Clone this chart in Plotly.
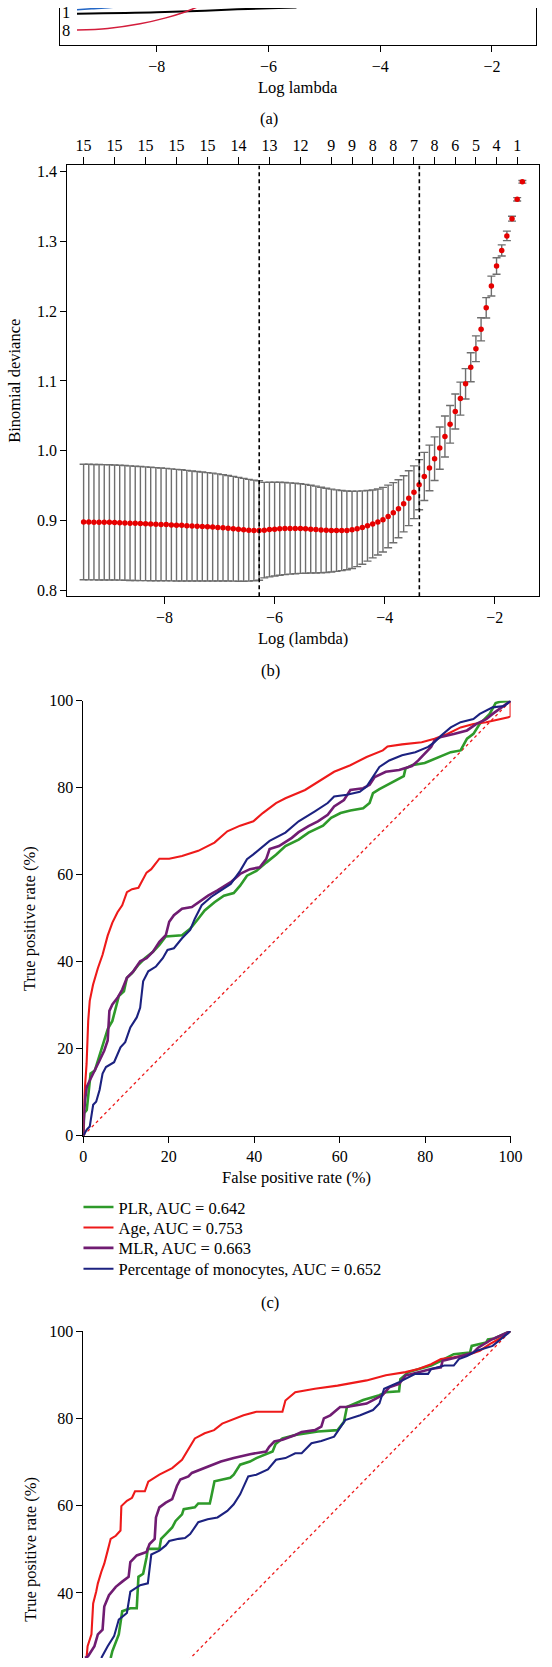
import plotly.graph_objects as go

W, H = 552, 1667
FONT = "Liberation Serif"


def fx(x):
    return x / W


def fy(y):
    return 1 - y / H


# ---------------- (a) coefficient paths (visible fragment only) ----------------
a_blue_loglam = [-9.43, -9.17, -8.94, -8.70]
a_blue_coef = [-0.017, -0.007, 0.0, 0.012]
a_black_loglam = [-9.43, -8.0, -7.14, -6.56, -5.98, -5.5]
a_black_coef = [-0.057, -0.043, -0.027, -0.013, -0.003, 0.005]
a_red_loglam = [-9.43, -8.88, -8.30, -7.84, -7.55, -7.35, -7.1]
a_red_coef = [-0.223, -0.207, -0.160, -0.100, -0.050, -0.007, 0.05]
a_labels = ["1", "8"]
a_label_coef = [-0.05, -0.227]

# ---------------- (b) cross-validation curve ----------------
b_log_lambda = [
    -9.471, -9.377, -9.283, -9.190, -9.096, -9.002, -8.908, -8.815, -8.721, -8.627,
    -8.533, -8.439, -8.345, -8.252, -8.158, -8.064, -7.970, -7.876, -7.783, -7.689,
    -7.595, -7.501, -7.407, -7.314, -7.220, -7.126, -7.032, -6.938, -6.845, -6.751,
    -6.657, -6.563, -6.469, -6.376, -6.282, -6.188, -6.094, -6.000, -5.907, -5.813,
    -5.719, -5.625, -5.531, -5.438, -5.344, -5.250, -5.156, -5.062, -4.969, -4.875,
    -4.781, -4.687, -4.593, -4.500, -4.406, -4.312, -4.218, -4.124, -4.031, -3.937,
    -3.843, -3.749, -3.655, -3.562, -3.468, -3.374, -3.280, -3.186, -3.093, -2.999,
    -2.905, -2.811, -2.717, -2.624, -2.530, -2.436, -2.342, -2.248, -2.155, -2.061,
    -1.967, -1.873, -1.779, -1.686, -1.592, -1.498]
b_mean = [
    0.8982, 0.8981, 0.8980, 0.8979, 0.8978, 0.8977, 0.8975, 0.8972, 0.8969, 0.8966,
    0.8963, 0.8960, 0.8957, 0.8954, 0.8951, 0.8948, 0.8945, 0.8941, 0.8937, 0.8934,
    0.8930, 0.8926, 0.8922, 0.8918, 0.8914, 0.8910, 0.8905, 0.8899, 0.8893, 0.8886,
    0.8878, 0.8870, 0.8864, 0.8861, 0.8860, 0.8866, 0.8874, 0.8880, 0.8885, 0.8888,
    0.8889, 0.8889, 0.8888, 0.8885, 0.8880, 0.8874, 0.8868, 0.8863, 0.8860, 0.8859,
    0.8859, 0.8862, 0.8870, 0.8884, 0.8903, 0.8927, 0.8955, 0.8983, 0.9016, 0.9062,
    0.9115, 0.9171, 0.9242, 0.9323, 0.9408, 0.9516, 0.9634, 0.9756, 0.9889, 1.0040,
    1.0205, 1.0380, 1.0564, 1.0748, 1.0960, 1.1197, 1.1461, 1.1739, 1.2047, 1.2358,
    1.2646, 1.2868, 1.3076, 1.3322, 1.3600, 1.3850]
b_se = [
    0.0827, 0.0827, 0.0826, 0.0826, 0.0825, 0.0824, 0.0823, 0.0822, 0.0821, 0.0820,
    0.0818, 0.0816, 0.0814, 0.0812, 0.0810, 0.0807, 0.0804, 0.0801, 0.0798, 0.0795,
    0.0791, 0.0787, 0.0783, 0.0779, 0.0775, 0.0771, 0.0766, 0.0761, 0.0755, 0.0749,
    0.0743, 0.0736, 0.0728, 0.0720, 0.0712, 0.0683, 0.0677, 0.0671, 0.0665, 0.0659,
    0.0653, 0.0647, 0.0641, 0.0635, 0.0628, 0.0621, 0.0612, 0.0603, 0.0593, 0.0583,
    0.0573, 0.0563, 0.0553, 0.0540, 0.0525, 0.0505, 0.0486, 0.0472, 0.0462, 0.0448,
    0.0430, 0.0415, 0.0401, 0.0392, 0.0378, 0.0359, 0.0345, 0.0326, 0.0312, 0.0302,
    0.0293, 0.0269, 0.0250, 0.0236, 0.0217, 0.0208, 0.0184, 0.0165, 0.0146, 0.0142,
    0.0118, 0.0080, 0.0068, 0.0035, 0.0024, 0.0019]
b_top_index = [0, 6, 12, 18, 24, 30, 36, 42, 48, 52, 56, 60, 64, 68, 72, 76, 80, 84]
b_top_nonzero = ["15", "15", "15", "15", "15", "14", "13", "12", "9", "9",
                 "8", "8", "7", "8", "6", "5", "4", "1"]
b_lambda_min = -6.28
b_lambda_1se = -3.37

# ---------------- (c) ROC curves ----------------
c_plr_fpr = [0, 0.2, 0.8, 1.1, 1.7, 2.7, 3.4, 4.2, 4.9, 5.7, 6.8, 7.6, 8.3, 9.5, 10.2, 11.4, 12.9, 14.4, 16.3, 17.8,
             19.3, 23.1, 25.0, 26.9, 28.4, 30.7, 32.9, 35.2, 36.7, 38.3, 40.5, 42.8, 45.1, 47.3, 50.4, 52.7, 56.1, 58.0, 60.2, 62.5,
             65.5, 67.0, 67.8, 69.3, 71.2, 73.1, 75.0, 75.4, 76.9, 79.9, 82.2, 84.1, 86.0, 88.3, 89.8, 91.3, 92.8, 94.3, 95.1, 96.5,
             97.5, 100]
c_plr_tpr = [0, 5.2, 5.9, 9.0, 14.3, 15.0, 17.3, 19.6, 21.9, 24.5, 26.4, 29.4, 32.1, 33.2, 36.3, 37.4, 39.3, 40.8, 42.3, 43.9,
             45.8, 46.1, 47.6, 49.9, 51.8, 53.7, 55.2, 55.8, 57.5, 59.8, 60.9, 62.8, 64.6, 66.6, 68.1, 69.7, 71.3, 73.1, 74.2, 74.8,
             75.3, 76.5, 78.8, 79.7, 80.7, 81.8, 82.7, 84.4, 85.2, 85.7, 86.7, 87.5, 88.2, 88.6, 91.3, 92.4, 94.7, 96.2, 97.0, 99.5,
             99.8, 100]
c_age_fpr = [0, 0.23, 0.76, 1.14, 1.5, 2.27, 3.4, 4.5, 5.7, 6.8, 8.0, 9.1, 10.2, 11.4, 12.9, 14.8, 15.9, 17.8, 20.1, 23.1,
             26.9, 30.7, 33.7, 36.7, 39.8, 42.0, 45.1, 47.3, 51.9, 54.9, 58.7, 62.5, 66.3, 70.1, 71.2, 74.6, 79.2, 82.2, 85.2, 88.3,
             91.3, 94.3, 95.8, 99.5, 100, 100]
c_age_tpr = [0, 9, 16.5, 26.4, 31, 34.7, 38.5, 41.6, 46, 49, 51.4, 53, 56, 56.7, 57, 60.5, 61.3, 63.7, 63.7, 64.3,
             65.5, 67.4, 70, 71.3, 72.3, 74.2, 76.5, 77.6, 79.5, 81.4, 83.7, 85.2, 87.1, 88.6, 89.5, 90.0, 90.5, 91.3, 92.4, 93.9,
             94.7, 95.1, 95.4, 96.2, 96.5, 100]
c_mlr_fpr = [0, 0, 0.4, 0.8, 1.5, 2.7, 3.8, 4.9, 5.7, 6.1, 6.8, 8.0, 9.1, 10.2, 11.7, 13.3, 14.8, 16.3, 17.8, 19.3,
             20.1, 21.2, 23.1, 25.4, 26.9, 29.2, 31.4, 34.5, 36.7, 39.0, 41.3, 42.8, 43.6, 45.8, 48.8, 50.4, 52.7, 54.9, 57.2, 58.7,
             61.0, 62.5, 65.5, 67.0, 68.2, 70.8, 73.9, 76.9, 78.4, 79.9, 81.4, 82.2, 83.7, 86.7, 89.8, 92.0, 94.3, 95.8, 98.0, 100]
c_mlr_tpr = [0, 2.1, 8.2, 11.2, 12.7, 15.0, 17.3, 19.6, 21.9, 28.7, 30.2, 31.7, 33.6, 36.3, 37.8, 40.1, 40.8, 42.3, 44.6, 46.1,
             49.2, 50.7, 52.2, 52.6, 53.7, 55.2, 56.4, 58.3, 60.2, 61.3, 61.7, 63.6, 65.9, 66.6, 68.5, 69.8, 71.2, 72.3, 73.8, 75.7,
             77.2, 79.5, 79.9, 80.7, 82.5, 83.7, 84.1, 85.0, 86.3, 87.9, 89.4, 90.9, 91.7, 92.4, 93.2, 94.7, 95.8, 97.0, 98.5, 100]
c_mono_fpr = [0, 0.8, 1.5, 1.9, 2.3, 3.0, 3.8, 4.5, 5.3, 7.2, 8.7, 9.8, 11.0, 12.5, 13.3, 14.0, 15.2, 17.0, 18.6, 19.7,
              21.2, 23.1, 25.0, 26.1, 27.7, 29.9, 32.2, 34.5, 36.7, 38.3, 39.8, 42.0, 43.6, 47.3, 50.4, 54.2, 57.2, 58.7, 61.7, 64.7,
              66.3, 69.3, 71.6, 74.6, 77.7, 80.7, 82.2, 83.7, 86.0, 88.3, 91.3, 92.8, 95.1, 95.8, 98.5, 100]
c_mono_tpr = [0, 1.4, 2.1, 4.4, 7.1, 7.8, 10.5, 14.3, 15.8, 16.9, 20.3, 21.5, 24.9, 27.2, 29.4, 35.5, 37.8, 38.9, 40.8, 42.7,
              43.1, 45.4, 47.3, 49.9, 53.0, 54.9, 56.4, 57.9, 60.9, 63.6, 64.7, 66.6, 67.8, 69.7, 72.3, 74.6, 76.5, 78.0, 78.4, 79.1,
              80.3, 84.8, 86.3, 87.5, 88.2, 89.4, 90.5, 92.0, 93.9, 95.1, 95.8, 97.0, 98.1, 98.5, 98.8, 100]

# ---------------- (d) ROC curves (upper part visible) ----------------
d_age_fpr = [0.75, 1.0, 1.9, 2.3, 3.0, 3.4, 4.2, 4.9, 5.7, 6.4, 7.6, 8.7, 8.9, 10.2, 11.4, 12.1, 14.4, 15.2, 17.8, 20.8,
             23.1, 24.2, 26.1, 28.4, 30.6, 32.5, 34.5, 37.5, 40.5, 46.6, 47.3, 49.6, 54.2, 59.5, 66.3, 70.8, 75.4, 78.4, 81.4, 83.7,
             86.7, 90.5, 92.8, 95.1, 97.5, 100]
d_age_tpr = [25.1, 27.8, 30.5, 37.6, 40.3, 42.2, 44.8, 46.7, 49.7, 52.4, 53.1, 54.3, 59.9, 61.1, 61.8, 63.3, 63.3, 65.5, 67.1, 68.6,
             70.5, 72.4, 75.4, 76.6, 77.3, 78.8, 79.6, 80.7, 81.5, 81.5, 84.1, 86.0, 86.8, 87.5, 88.7, 89.9, 90.6, 91.3, 92.4, 93.6,
             94.0, 94.7, 95.5, 97.0, 98.3, 100]
d_mlr_fpr = [0.4, 1.1, 2.6, 3.4, 4.5, 4.9, 6.0, 7.6, 9.1, 10.6, 11.0, 12.5, 14.8, 15.5, 16.7, 17.0, 17.8, 19.3, 20.8, 21.9,
             22.7, 24.6, 25.4, 27.6, 30.7, 32.2, 35.2, 39.0, 42.8, 43.5, 44.7, 46.6, 49.6, 51.1, 54.2, 55.7, 56.3, 57.8, 60.1, 61.6,
             66.3, 70.0, 71.6, 73.9, 75.4, 78.4, 81.4, 83.7, 84.1, 87.5, 91.3, 92.4, 94.3, 95.4, 100]
d_mlr_tpr = [25.1, 25.5, 27.8, 30.5, 31.6, 36.9, 39.5, 41.4, 42.6, 43.7, 47.1, 48.6, 49.4, 51.2, 52.4, 57.3, 59.6, 60.7, 61.5, 64.5,
             66.0, 66.7, 67.5, 68.3, 69.4, 70.1, 70.9, 71.8, 72.4, 73.5, 74.7, 75.1, 76.2, 76.9, 77.3, 78.1, 80.0, 80.7, 82.6, 82.6,
             83.4, 85.3, 87.1, 87.9, 89.8, 90.6, 91.3, 91.7, 93.2, 94.0, 95.1, 96.2, 97.4, 98.0, 100]
d_plr_fpr = [6.4, 6.8, 8.3, 9.1, 11.0, 12.5, 12.9, 14.0, 14.8, 15.1, 17.8, 18.2, 19.3, 20.8, 21.6, 23.1, 23.5, 26.1, 26.9, 29.6,
             29.9, 30.7, 34.4, 35.2, 36.7, 39.0, 40.5, 42.8, 44.3, 45.0, 46.6, 49.6, 54.9, 59.5, 61.0, 61.7, 65.5, 69.3, 70.8, 73.9,
             74.2, 76.1, 81.4, 83.7, 86.7, 90.5, 90.9, 94.3, 94.7, 96.2, 100]
d_plr_tpr = [25.1, 26.7, 30.5, 35.8, 36.5, 36.5, 43.7, 44.4, 48.2, 50.1, 50.1, 52.4, 53.5, 55.0, 56.5, 58.0, 59.2, 59.6, 60.5, 60.5,
             61.8, 65.6, 66.4, 67.1, 69.4, 70.1, 70.9, 71.7, 72.4, 74.1, 75.4, 76.2, 77.0, 77.3, 79.2, 82.6, 84.2, 85.3, 86.0, 86.2,
             89.0, 90.6, 92.1, 93.2, 94.7, 95.1, 96.6, 97.4, 98.1, 98.3, 100]
d_mono_fpr = [4.2, 5.7, 7.2, 8.3, 10.2, 11.0, 13.3, 15.1, 15.9, 17.8, 19.3, 20.1, 22.3, 23.8, 25.0, 26.9, 29.1, 31.4, 33.7, 35.2,
              36.7, 38.6, 40.5, 43.2, 45.1, 47.3, 49.6, 51.1, 53.4, 55.7, 58.7, 59.8, 61.3, 64.8, 67.8, 69.3, 70.4, 73.9, 77.7, 80.7,
              81.4, 84.5, 86.7, 87.9, 89.8, 92.1, 95.8, 100]
d_mono_tpr = [25.1, 27.8, 30.1, 33.9, 35.4, 40.3, 41.8, 42.2, 48.8, 49.7, 50.9, 51.9, 52.4, 52.6, 53.5, 56.2, 56.9, 57.3, 58.8, 60.3,
              62.6, 66.7, 67.1, 68.3, 70.5, 70.9, 72.0, 72.0, 74.3, 74.8, 75.8, 77.3, 79.6, 80.7, 81.9, 83.4, 86.8, 88.3, 90.2, 90.2,
              91.3, 92.1, 92.1, 93.6, 94.3, 95.5, 96.6, 100]

diag = [0, 100]
roc_names = ["PLR, AUC = 0.642", "Age, AUC = 0.753", "MLR, AUC = 0.663",
             "Percentage of monocytes, AUC = 0.652"]
roc_colors = ["#2e9a2a", "#ee1a1a", "#701c72", "#1c2280"]
roc_widths = [2.6, 2.1, 2.6, 2.1]
legend_rows_px = [1211.7, 1232.3, 1252.9, 1274.0]

fig = go.Figure()

# (a)
for xs, ys, col, w in [(a_blue_loglam, a_blue_coef, "#2467c6", 1.5),
                       (a_black_loglam, a_black_coef, "black", 2.0),
                       (a_red_loglam, a_red_coef, "#d31d3c", 1.5)]:
    fig.add_trace(go.Scatter(x=xs, y=ys, mode="lines", line=dict(color=col, width=w, shape="spline"),
                             xaxis="x", yaxis="y", showlegend=False, hoverinfo="skip"))

# (b)
fig.add_trace(go.Scatter(
    x=b_log_lambda, y=b_mean, mode="markers",
    marker=dict(color="#e60000", size=5.5),
    error_y=dict(type="data", array=b_se, visible=True, color="#6e6e6e", thickness=1.4, width=4),
    xaxis="x2", yaxis="y2", showlegend=False, hoverinfo="skip"))
for v in [b_lambda_min, b_lambda_1se]:
    fig.add_trace(go.Scatter(x=[v, v], y=[0.792, 1.4085], mode="lines",
                             line=dict(color="black", width=1.6, dash="4px,3px"),
                             xaxis="x2", yaxis="y2", showlegend=False, hoverinfo="skip"))
# invisible carrier so that the top (number of non-zero coefficients) axis is drawn
fig.add_trace(go.Scatter(x=[b_log_lambda[i] for i in b_top_index], y=[None] * len(b_top_index),
                         mode="markers", xaxis="x5", yaxis="y2", showlegend=False, hoverinfo="skip"))

# (c)
fig.add_trace(go.Scatter(x=diag, y=diag, mode="lines", line=dict(color="#ee1a1a", width=1.3, dash="dot"),
                         xaxis="x3", yaxis="y3", showlegend=False, hoverinfo="skip"))
c_sets = [(c_plr_fpr, c_plr_tpr), (c_age_fpr, c_age_tpr), (c_mlr_fpr, c_mlr_tpr), (c_mono_fpr, c_mono_tpr)]
legend_ids = ["legend", "legend2", "legend3", "legend4"]
for (xs, ys), name, col, w, lg in zip(c_sets, roc_names, roc_colors, roc_widths, legend_ids):
    fig.add_trace(go.Scatter(x=xs, y=ys, mode="lines", name=name, line=dict(color=col, width=w),
                             xaxis="x3", yaxis="y3", showlegend=True, legend=lg, hoverinfo="skip"))

# (d)
fig.add_trace(go.Scatter(x=diag, y=diag, mode="lines", line=dict(color="#ee1a1a", width=1.3, dash="dot"),
                         xaxis="x4", yaxis="y4", showlegend=False, hoverinfo="skip"))
d_sets = [(d_plr_fpr, d_plr_tpr), (d_age_fpr, d_age_tpr), (d_mlr_fpr, d_mlr_tpr), (d_mono_fpr, d_mono_tpr)]
for (xs, ys), col, w in zip(d_sets, roc_colors, roc_widths):
    fig.add_trace(go.Scatter(x=xs, y=ys, mode="lines", line=dict(color=col, width=w),
                             xaxis="x4", yaxis="y4", showlegend=False, hoverinfo="skip"))

tickfont = dict(family=FONT, size=16, color="black")
common = dict(showgrid=False, zeroline=False, showline=True, linecolor="black", linewidth=1,
              ticks="outside", ticklen=6, tickwidth=1, tickcolor="black", tickfont=tickfont)

legends = {}
for lg, row in zip(legend_ids, legend_rows_px):
    legends[lg] = dict(x=fx(76.7), xanchor="left", y=fy(row), yanchor="middle",
                       font=dict(family=FONT, size=16.5, color="black"), bgcolor="rgba(0,0,0,0)",
                       borderwidth=0, itemwidth=30, tracegroupgap=0)

fig.update_layout(
    width=W, height=H, autosize=False,
    margin=dict(l=0, r=0, t=0, b=0, pad=0),
    paper_bgcolor="white", plot_bgcolor="white",
    font=dict(family=FONT, size=16, color="black"),
    xaxis=dict(common, domain=[fx(57.4), fx(547.5)], range=[-9.739, -1.217], tickvals=[-8, -6, -4, -2],
               anchor="y", mirror=False),
    yaxis=dict(common, domain=[fy(37.7), 1], range=[-0.377, 0], showticklabels=False, ticks="",
               anchor="x", mirror=True),
    xaxis2=dict(common, domain=[fx(65.1), fx(551.0)], range=[-9.769, -1.195], tickvals=[-8, -6, -4, -2],
                anchor="y2", mirror=True, ticklen=7),
    yaxis2=dict(common, domain=[fy(594.3), fy(159)], range=[0.792, 1.4085],
                tickvals=[0.8, 0.9, 1.0, 1.1, 1.2, 1.3, 1.4], tickformat=".1f", anchor="x2", mirror=True),
    xaxis5=dict(common, overlaying="x2", anchor="y2", side="top", range=[-9.769, -1.195],
                tickvals=[b_log_lambda[i] for i in b_top_index], ticktext=b_top_nonzero,
                showline=False, ticklen=7),
    xaxis3=dict(common, domain=[fx(81.7), fx(521.7)], range=[0, 100], tickvals=[0, 20, 40, 60, 80, 100],
                anchor="y3"),
    yaxis3=dict(common, domain=[fy(1139.3), fy(700)], range=[0, 100], tickvals=[0, 20, 40, 60, 80, 100],
                anchor="x3"),
    xaxis4=dict(domain=[fx(81.7), fx(521.7)], range=[0, 100], visible=False, anchor="y4"),
    yaxis4=dict(common, domain=[0, fy(1336.7)], range=[25.1, 100], tickvals=[40, 60, 80, 100],
                anchor="x4"),
    **legends,
)

ann = []


def text(x, y, s, angle=0, size=16.5):
    ann.append(dict(x=fx(x), y=fy(y), xref="paper", yref="paper", text=s, showarrow=False,
                    xanchor="center", yanchor="middle", textangle=angle,
                    font=dict(family=FONT, size=size, color="black")))


text(302.8, 80, "Log lambda")
text(273, 111.7, "(a)")
text(10, 377, "Binomial deviance", angle=-90)
text(308, 636.7, "Log (lambda)")
text(274, 669.3, "(b)")
text(26.4, 919.7, "True positive rate (%)", angle=-90)
text(301.7, 1181.7, "False positive rate (%)")
text(274, 1307.7, "(c)")
text(26.4, 1557, "True positive rate (%)", angle=-90)
for lab, c in zip(a_labels, a_label_coef):
    ann.append(dict(x=-9.635, y=c, xref="x", yref="y", text=lab, showarrow=False,
                    xanchor="center", yanchor="middle", font=dict(family=FONT, size=16.5, color="black")))
fig.update_layout(annotations=ann)

fig.write_html("out.html", include_plotlyjs=True, config={"displayModeBar": False},
               post_script="document.body.style.margin='0px';document.body.style.overflow='hidden';"
                           "document.documentElement.style.overflow='hidden';")
